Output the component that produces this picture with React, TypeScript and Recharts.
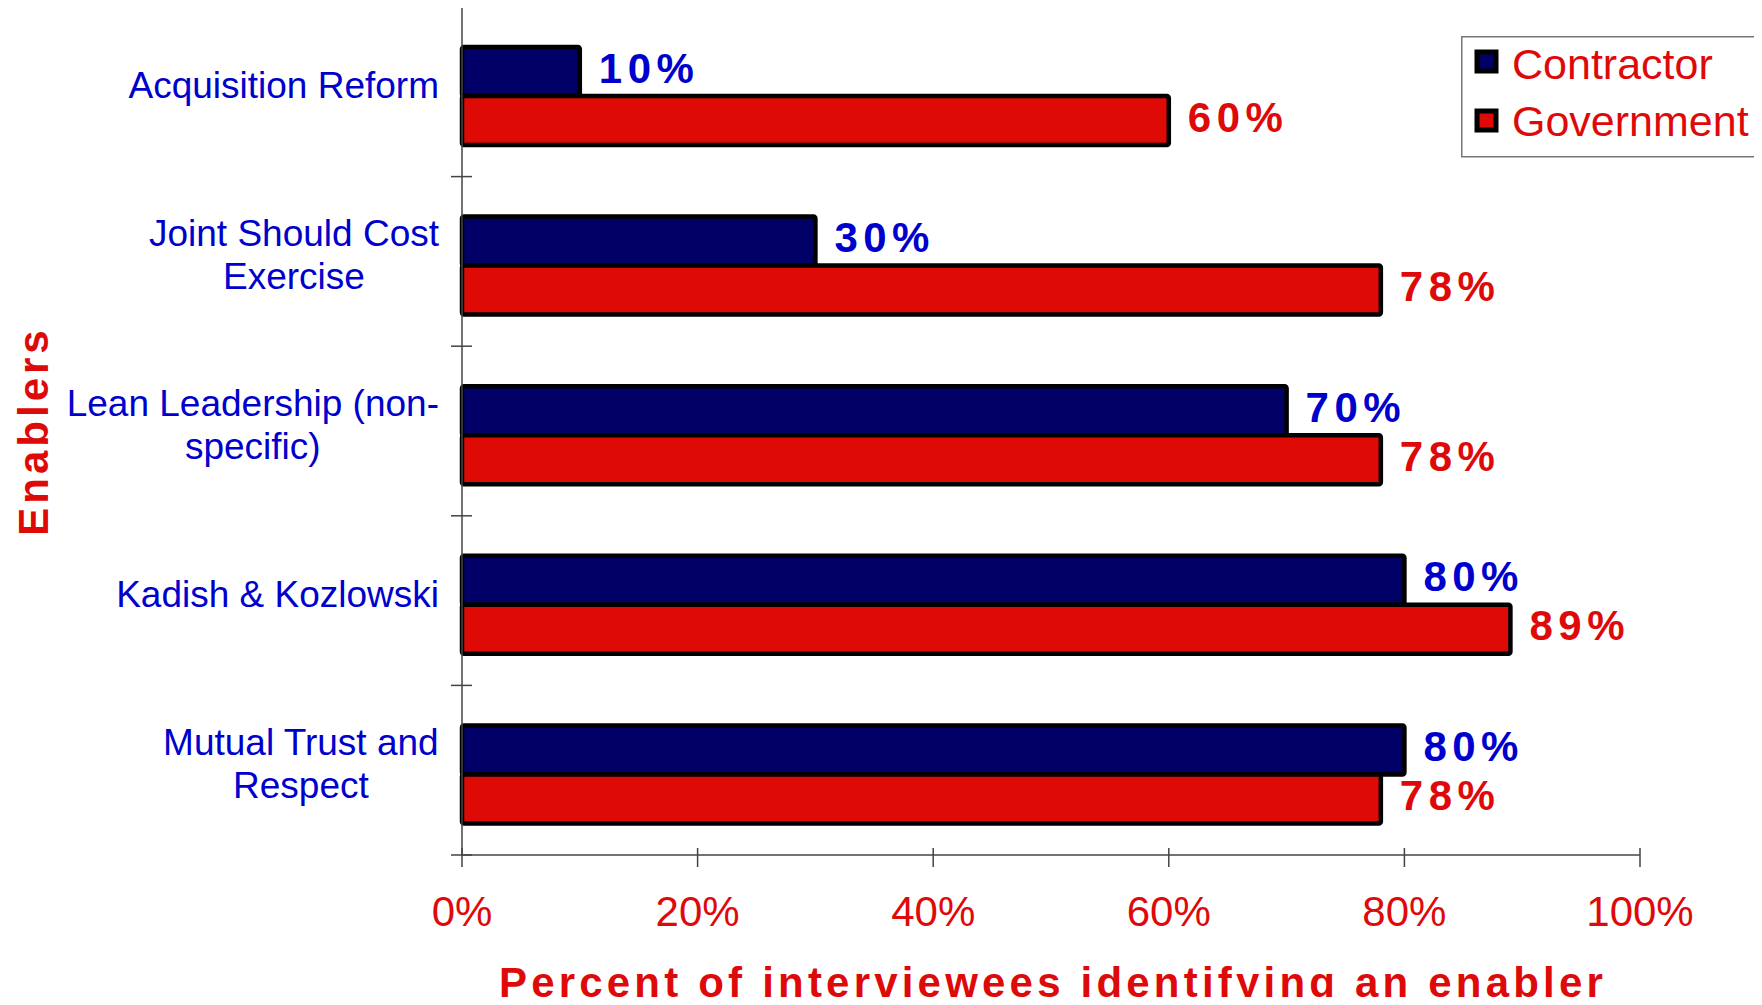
import { Bar, BarChart, Label, LabelList, Legend, Rectangle, XAxis, YAxis } from "recharts";

const categories = [
  "Acquisition Reform",
  "Joint Should Cost Exercise",
  "Lean Leadership (non-specific)",
  "Kadish & Kozlowski",
  "Mutual Trust and Respect"
];
// how each category label wraps in the original
const categoryLines = [
  ["Acquisition Reform"],
  ["Joint Should Cost", "Exercise"],
  ["Lean Leadership (non-", "specific)"],
  ["Kadish & Kozlowski"],
  ["Mutual Trust and", "Respect"]
];
const contractor = [10, 30, 70, 80, 80];
const government = [60, 78, 78, 89, 78];
const percentTicks = [0, 20, 40, 60, 80, 100];
const seriesNames = ["Contractor", "Government"];

const data = categories.map((name, i) => ({
  name,
  contractor: contractor[i],
  government: government[i]
}));

const W = 1762;
const H = 1005;
const X_AXIS_H = 150;
const margin = { top: 7, right: 122, bottom: 0, left: 0 };
const band = (H - margin.top - X_AXIS_H) / categories.length;
// the original draws its bar pairs a little below the middle of each band
const BAR_SHIFT = 4;

const FONT = '"Liberation Sans", Arial, Helvetica, sans-serif';
const RED = "#DE0A0A";
const BLUE = "#0000CC";
const NAVY = "#000066";
const BAR_RED = "#DD0A05";
const AXIS = "#444444";

let ctx: CanvasRenderingContext2D | null = null;
function measure(s: string, font: string) {
  if (!ctx) ctx = document.createElement("canvas").getContext("2d");
  if (!ctx) return s.length * 18;
  ctx.font = font;
  return ctx.measureText(s).width;
}

function EnablerTick(props: any) {
  const { x, y, payload } = props;
  const idx = categories.indexOf(payload.value);
  const lines = categoryLines[idx] ?? [String(payload.value)];
  const maxW = Math.max(...lines.map(l => measure(l, `37px ${FONT}`)));
  const cx = x - 23 - maxW / 2;
  const first = y + 6 - ((lines.length - 1) * 43) / 2;
  return (
    <g>
      <line x1={x - 11} x2={x + 10} y1={y - band / 2} y2={y - band / 2} stroke={AXIS} strokeWidth={1.5} />
      {idx === categories.length - 1 && (
        <line x1={x - 11} x2={x + 10} y1={y + band / 2} y2={y + band / 2} stroke={AXIS} strokeWidth={1.5} />
      )}
      <text textAnchor="middle" fontFamily={FONT} fontSize={37} fill={BLUE}>
        {lines.map((l, i) => (
          <tspan key={i} x={cx} y={first + i * 43}>
            {l}
          </tspan>
        ))}
      </text>
    </g>
  );
}

function PercentTick(props: any) {
  const { x, y, payload } = props;
  return (
    <g>
      <line x1={x} x2={x} y1={y - 7} y2={y + 12} stroke={AXIS} strokeWidth={1.5} />
      <text x={x} y={y + 71} textAnchor="middle" fontFamily={FONT} fontSize={42} fill={RED}>
        {payload.value}%
      </text>
    </g>
  );
}

function ShiftedBar(props: any) {
  return <Rectangle {...props} y={Number(props.y) + BAR_SHIFT} />;
}

function valueLabel(color: string) {
  return (p: any) => {
    const x = Number(p.x) + Number(p.width) + 19;
    const y = Number(p.y) + Number(p.height) / 2 + BAR_SHIFT + 11;
    return (
      <text x={x} y={y} fontFamily={FONT} fontSize={42} fontWeight="bold" letterSpacing={5.5} fill={color}>
        {p.value}%
      </text>
    );
  };
}

function LegendBox() {
  const fills = [NAVY, BAR_RED];
  return (
    <svg width={320} height={122} style={{ display: "block" }}>
      <rect x={0.75} y={0.75} width={340} height={120} fill="#fff" stroke="#777" strokeWidth={1.5} />
      {seriesNames.map((n, i) => (
        <g key={n}>
          <rect x={16} y={16 + i * 59} width={19} height={19} fill={fills[i]} stroke="#000" strokeWidth={5} />
          <text x={51} y={43 + i * 57} fontFamily={FONT} fontSize={43} fill={RED}>
            {n}
          </text>
        </g>
      ))}
    </svg>
  );
}

export default function App() {
  return (
    <div style={{ margin: -8, width: W, height: H, overflow: "hidden", background: "#fff" }}>
      <BarChart
        width={W}
        height={H}
        data={data}
        layout="vertical"
        margin={margin}
        barCategoryGap={36}
        barGap={0}
      >
        <XAxis
          type="number"
          domain={[0, 100]}
          ticks={percentTicks}
          height={X_AXIS_H}
          axisLine={{ stroke: AXIS, strokeWidth: 1.5 }}
          tickLine={false}
          tickSize={0}
          tickMargin={0}
          tick={<PercentTick />}
          interval={0}
        >
          <Label
            content={(p: any) => {
              const vb = p.viewBox;
              return (
                <text
                  x={vb.x + vb.width / 2 + 2}
                  y={vb.y + 142}
                  textAnchor="middle"
                  fontFamily={FONT}
                  fontSize={42}
                  fontWeight="bold"
                  letterSpacing={4.2}
                  fill={RED}
                >
                  Percent of interviewees identifying an enabler
                </text>
              );
            }}
          />
        </XAxis>
        <YAxis
          type="category"
          dataKey="name"
          width={462}
          axisLine={{ stroke: AXIS, strokeWidth: 1.5 }}
          tickLine={false}
          tickSize={0}
          tickMargin={0}
          tick={<EnablerTick />}
          interval={0}
        >
          <Label
            content={(p: any) => {
              const vb = p.viewBox;
              const cy = vb.y + vb.height / 2;
              return (
                <text
                  x={48}
                  y={cy}
                  transform={`rotate(-90, 48, ${cy})`}
                  textAnchor="middle"
                  fontFamily={FONT}
                  fontSize={42}
                  fontWeight="bold"
                  letterSpacing={4}
                  fill={RED}
                >
                  Enablers
                </text>
              );
            }}
          />
        </YAxis>
        <Legend
          layout="horizontal"
          verticalAlign="middle"
          align="center"
          content={() => <LegendBox />}
          wrapperStyle={{ top: 36, left: 1461, width: 320, height: 122 }}
        />
        <Bar
          dataKey="contractor"
          name={seriesNames[0]}
          fill={NAVY}
          stroke="#000"
          strokeWidth={4.5}
          radius={2}
          shape={<ShiftedBar />}
          isAnimationActive={false}
        >
          <LabelList dataKey="contractor" content={valueLabel(BLUE)} />
        </Bar>
        <Bar
          dataKey="government"
          name={seriesNames[1]}
          fill={BAR_RED}
          stroke="#000"
          strokeWidth={4.5}
          radius={2}
          shape={<ShiftedBar />}
          isAnimationActive={false}
        >
          <LabelList dataKey="government" content={valueLabel(RED)} />
        </Bar>
      </BarChart>
    </div>
  );
}
